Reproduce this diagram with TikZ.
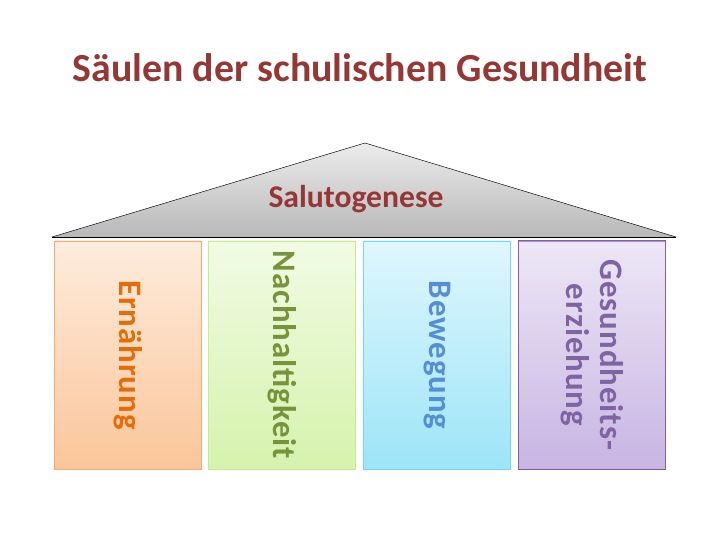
\documentclass[tikz,border=0pt]{standalone}
\usepackage{fontspec}
\setmainfont{Carlito}
\newfontfamily\pillarfont[LetterSpace=3]{Carlito}
\definecolor{titlered}{HTML}{953735}
\definecolor{roofgrey}{HTML}{B8B8B8}
\tikzset{
  pillar/.style={draw=#1!80!white, thick, minimum width=4.4cm, minimum height=6.84cm,
    top color=#1!18!white, bottom color=#1!55!white},
  pillar text/.style={text=#1, font=\pillarfont\bfseries\fontsize{28}{29}\selectfont,
    rotate=-90, align=center}
}
\definecolor{pOrange}{HTML}{F79646}
\definecolor{pGreen}{HTML}{B4E86A}
\definecolor{pBlue}{HTML}{4CCFF2}
\definecolor{pPurple}{HTML}{9B78CC}
\definecolor{tOrange}{HTML}{E46C0A}
\definecolor{tGreen}{HTML}{77933C}
\definecolor{tBlue}{HTML}{558ED5}
\definecolor{tPurple}{HTML}{8064A2}
\begin{document}
\begin{tikzpicture}[x=0.03cm, y=-0.03cm]
    \useasboundingbox (0,0) rectangle (720,540);

    % title
    \node (title) at (360,68) {\textcolor{titlered}{\bfseries\fontsize{34}{36}\selectfont S\"aulen der schulischen Gesundheit}};

    % roof
    \coordinate (roofL) at (52,237);
    \coordinate (roofR) at (676,237);
    \coordinate (roofT) at (365,143);
    \shade[top color=gray!15, bottom color=roofgrey] (roofL) -- (roofT) -- (roofR) -- cycle;
    \draw (roofL) -- (roofT) -- (roofR);
    \draw[thick] (roofL) -- (roofR);
    \node[text=titlered, font=\bfseries\fontsize{27}{29}\selectfont] (salu) at (356,199) {Salutogenese};

    % pillars
    \node[pillar=pOrange] (p1) at (128,355) {};
    \node[pillar=pGreen] (p2) at (282,355) {};
    \node[pillar=pBlue] (p3) at (437,355) {};
    \node[pillar=pPurple] (p4) at (592,355) {};
    \draw[draw=pPurple!80!black, thick] (p4.south west) rectangle (p4.north east);

    \node[pillar text=tOrange] at (p1) {Ern\"ahrung};
    \node[pillar text=tGreen] at (p2) {Nachhaltigkeit};
    \node[pillar text=tBlue] at (p3) {Bewegung};
    \node[pillar text=tPurple] at (p4) {Gesundheits-\\erziehung};

\end{tikzpicture}
\end{document}
